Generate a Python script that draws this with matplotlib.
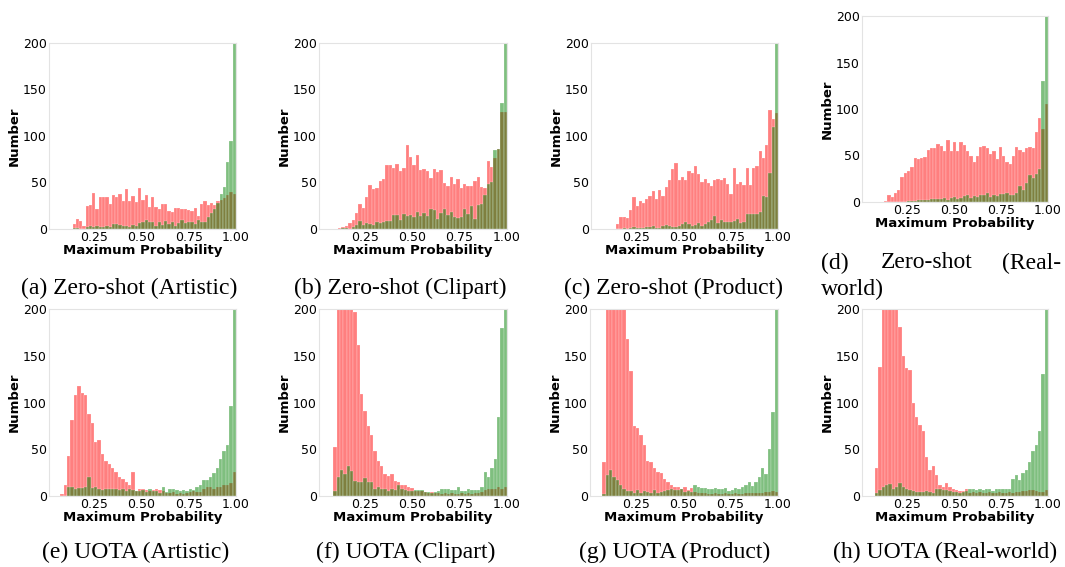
import matplotlib.pyplot as plt
import numpy as np

# bin counts; each panel's bins run evenly from start to 1.0
start_a = 0.135
red_a = [5, 11, 9, 3, 25, 26, 39, 22, 34, 34,
         34, 27, 37, 34, 38, 30, 43, 30, 35, 29,
         44, 31, 37, 24, 34, 24, 21, 27, 27, 19,
         18, 23, 23, 21, 22, 20, 19, 23, 14, 27,
         30, 26, 28, 26, 30, 31, 33, 37, 40, 38]
green_a = [1, 1, 0, 0, 2, 3, 2, 3, 2, 2,
           3, 2, 5, 5, 4, 3, 3, 2, 4, 3,
           6, 7, 10, 8, 7, 3, 8, 4, 9, 5,
           8, 3, 6, 10, 6, 7, 7, 5, 10, 8,
           7, 13, 17, 22, 28, 38, 45, 72, 95, 400]

start_b = 0.11
red_b = [1, 2, 3, 6, 10, 17, 27, 23, 34, 47,
         43, 44, 52, 54, 69, 69, 66, 70, 62, 66,
         90, 77, 69, 80, 63, 64, 62, 55, 64, 61,
         63, 49, 46, 56, 48, 54, 44, 48, 46, 46,
         52, 56, 45, 44, 73, 67, 76, 86, 126, 126]
green_b = [0, 1, 1, 0, 2, 4, 9, 4, 6, 5,
           4, 8, 6, 8, 9, 9, 15, 15, 10, 16,
           14, 15, 13, 18, 14, 17, 14, 21, 20, 11,
           17, 21, 15, 18, 13, 12, 13, 22, 16, 25,
           11, 26, 27, 37, 48, 50, 85, 86, 136, 400]

start_c = 0.143
red_c = [5, 13, 13, 12, 20, 34, 25, 30, 28, 32,
         36, 41, 32, 42, 35, 45, 53, 64, 71, 53,
         56, 53, 62, 60, 68, 59, 51, 54, 49, 46,
         53, 54, 53, 55, 48, 38, 66, 48, 50, 47,
         66, 47, 66, 68, 84, 76, 90, 128, 118, 125]
green_c = [0, 0, 1, 0, 1, 2, 1, 1, 1, 2,
           2, 3, 1, 1, 3, 4, 3, 2, 2, 3,
           5, 7, 5, 3, 4, 6, 3, 5, 8, 10,
           14, 6, 10, 8, 7, 8, 9, 11, 6, 7,
           16, 16, 16, 16, 18, 35, 34, 60, 110, 400]

start_d = 0.127
red_d = [1, 8, 5, 10, 13, 27, 31, 33, 38, 47,
         46, 47, 48, 56, 58, 58, 62, 60, 55, 67,
         55, 64, 55, 65, 61, 55, 49, 43, 49, 59,
         60, 58, 52, 55, 46, 59, 49, 43, 41, 49,
         59, 56, 54, 58, 59, 58, 75, 90, 78, 105]
green_d = [0, 0, 0, 0, 0, 0, 0, 1, 1, 1,
           2, 2, 2, 2, 3, 3, 3, 3, 4, 2,
           4, 5, 3, 4, 6, 8, 4, 6, 5, 8,
           8, 10, 5, 8, 6, 9, 9, 10, 8, 7,
           10, 17, 13, 20, 29, 26, 30, 35, 130, 400]

start_e = 0.07
red_e = [2, 12, 43, 81, 108, 118, 110, 108, 88, 78,
         58, 60, 45, 37, 34, 30, 26, 20, 18, 15,
         12, 26, 5, 8, 8, 6, 5, 6, 8, 6,
         5, 3, 3, 4, 2, 3, 2, 3, 4, 5,
         4, 4, 8, 10, 10, 8, 10, 10, 12, 12,
         14, 26]
green_e = [0, 0, 10, 10, 8, 9, 9, 10, 20, 9,
           10, 8, 6, 7, 7, 7, 7, 6, 7, 5,
           7, 6, 5, 5, 6, 4, 8, 5, 5, 3,
           10, 4, 7, 7, 6, 5, 6, 5, 8, 6,
           10, 12, 17, 17, 20, 25, 30, 40, 48, 55,
           96, 400]

start_f = 0.086
red_f = [52, 240, 280, 260, 240, 215, 197, 162, 109, 91,
         75, 65, 48, 37, 32, 24, 21, 24, 16, 15,
         12, 12, 10, 9, 5, 5, 5, 4, 3, 4,
         3, 3, 2, 3, 2, 3, 2, 2, 3, 2,
         3, 2, 3, 3, 4, 6, 7, 7, 8, 10,
         8, 10]
green_f = [5, 20, 28, 24, 32, 27, 16, 15, 15, 19,
           15, 15, 8, 10, 8, 7, 5, 8, 6, 12,
           8, 6, 5, 5, 6, 6, 6, 4, 4, 3,
           4, 5, 8, 7, 7, 6, 6, 10, 5, 5,
           8, 6, 6, 6, 10, 26, 20, 30, 40, 85,
           180, 400]

start_g = 0.074
red_g = [36, 230, 280, 260, 240, 220, 205, 168, 134, 75,
         73, 65, 55, 37, 36, 30, 26, 25, 18, 15,
         12, 10, 10, 8, 10, 6, 9, 4, 3, 3,
         3, 2, 2, 3, 2, 2, 3, 2, 2, 3,
         2, 2, 3, 3, 3, 3, 3, 3, 4, 4,
         5, 4]
green_g = [2, 22, 28, 20, 17, 12, 8, 5, 5, 3,
           6, 3, 5, 4, 3, 6, 3, 4, 5, 6,
           8, 6, 6, 7, 4, 5, 4, 12, 10, 9,
           9, 8, 8, 9, 7, 7, 9, 5, 6, 9,
           8, 10, 12, 15, 11, 15, 20, 30, 24, 50,
           90, 400]

start_h = 0.08
red_h = [30, 138, 230, 250, 240, 215, 205, 181, 150, 137,
         135, 100, 85, 76, 70, 42, 28, 32, 22, 12,
         10, 14, 10, 8, 6, 5, 5, 8, 3, 4,
         3, 4, 3, 3, 4, 3, 3, 4, 3, 3,
         4, 3, 4, 4, 5, 5, 6, 6, 5, 4,
         4, 6]
green_h = [3, 6, 10, 12, 13, 8, 10, 14, 10, 8,
           6, 5, 4, 4, 4, 5, 4, 3, 8, 8,
           6, 6, 5, 4, 4, 3, 4, 5, 8, 8,
           6, 8, 6, 7, 7, 5, 7, 8, 8, 8,
           8, 18, 22, 17, 25, 28, 36, 48, 55, 70,
           130, 400]

captions = ['(a) Zero-shot (Artistic)', '(b) Zero-shot (Clipart)',
            '(c) Zero-shot (Product)', None,
            '(e) UOTA (Artistic)', '(f) UOTA (Clipart)',
            '(g) UOTA (Product)', '(h) UOTA (Real-world)']

W, H = 1065, 567
fig = plt.figure(figsize=(W / 100, H / 100), dpi=100)


def px_axes(left, top, right, bottom):
    return fig.add_axes([left / W, 1 - bottom / H, (right - left) / W, (bottom - top) / H])


def draw_panel(ax, start, red, green):
    edges = np.linspace(start, 1.0, len(red) + 1)
    ax.bar(edges[:-1], red, width=np.diff(edges), align='edge',
           color='red', alpha=0.5, edgecolor='white', linewidth=0.3)
    ax.bar(edges[:-1], green, width=np.diff(edges), align='edge',
           color='green', alpha=0.5, edgecolor='white', linewidth=0.3)
    ax.set_xlim(0.01, 1.0)
    ax.set_ylim(0, 200)
    ax.set_xticks([0.25, 0.5, 0.75, 1.0])
    ax.set_yticks([0, 50, 100, 150, 200])
    ax.tick_params(length=0, labelsize=9, pad=1.5)
    for s in ax.spines.values():
        s.set_color('#e3e3e3')
        s.set_linewidth(0.8)
    ax.set_xlabel('Maximum Probability', fontsize=9.5, fontweight='bold', labelpad=0)
    ax.set_ylabel('Number', fontsize=9.5, fontweight='bold', labelpad=2)


boxes = [(49, 43, 236, 229), (319, 43, 507, 229), (591, 43, 778, 229), (862, 16, 1048, 202),
         (49, 309, 236, 496), (319, 309, 507, 496), (590, 309, 778, 496), (862, 309, 1048, 496)]
panels = [(start_a, red_a, green_a), (start_b, red_b, green_b),
          (start_c, red_c, green_c), (start_d, red_d, green_d),
          (start_e, red_e, green_e), (start_f, red_f, green_f),
          (start_g, red_g, green_g), (start_h, red_h, green_h)]

for box, (st, r, g) in zip(boxes, panels):
    draw_panel(px_axes(*box), st, r, g)

serif = dict(family='Liberation Serif', fontsize=17, va='center')
cap_x = [129, 400, 673, None, 136, 406, 675, 945]
for i, txt in enumerate(captions):
    if txt is None:
        continue
    y = 288 if i < 4 else 552
    fig.text(cap_x[i] / W, 1 - y / H, txt, ha='center', **serif)

# caption (d) is justified over two lines
fig.text(821 / W, 1 - 263 / H, '(d)', ha='left', **serif)
fig.text(927 / W, 1 - 263 / H, 'Zero-shot', ha='center', **serif)
fig.text(1061 / W, 1 - 263 / H, '(Real-', ha='right', **serif)
fig.text(821 / W, 1 - 289 / H, 'world)', ha='left', **serif)

fig.savefig('out.png', dpi=100)
